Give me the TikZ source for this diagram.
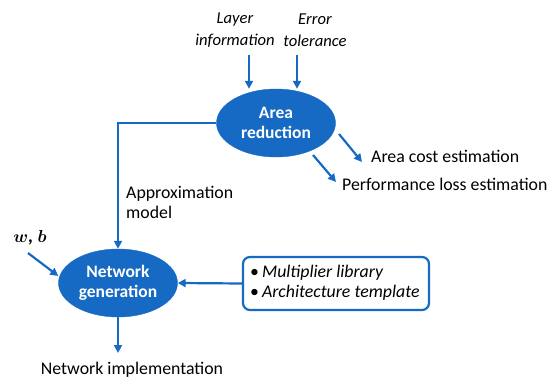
\documentclass[tikz,border=0pt]{standalone}
\usepackage{amsmath}
\usepackage{fontspec}
\setmainfont{Carlito}
\usetikzlibrary{shapes.geometric,arrows.meta}
\definecolor{myblue}{RGB}{22,106,196}
\begin{document}
\begin{tikzpicture}[x=1pt,y=-1pt,
  blob/.style={ellipse,fill=myblue,draw=myblue,minimum width=119pt,minimum height=68pt,inner sep=0pt,text=white,font=\fontsize{17.5}{20}\selectfont\bfseries,align=center},
  conn/.style={draw=myblue,line width=2.2pt,-{Triangle[length=8pt,width=8pt]}},
  lbl/.style={font=\fontsize{17.8}{20}\selectfont,inner sep=0pt,align=center},
  ilbl/.style={font=\fontsize{16.6}{22}\selectfont\itshape,inner sep=0pt,align=center}]
\useasboundingbox (0,0) rectangle (551,379);
\node[blob] (ar) at (276,123) {Area\\reduction};
\node[blob] (ng) at (118,283) {Network\\generation};
\node[ilbl] (li) at (235,30) {Layer\\information};
\node[ilbl] (et) at (315,30) {Error\\tolerance};
\coordinate (liS) at (249,55);
\coordinate (etS) at (297,55);
\draw[conn] (liS) -- (liS |- ar.north);
\draw[conn] (etS) -- (etS |- ar.north);
\coordinate (corner) at (118,123);
\draw[conn] (ar.west) -- (corner) -- (ng.north);
\node[lbl,align=left,anchor=west] (am) at (126,202) {Approximation\\model};
\node[font=\fontsize{19}{20}\selectfont,inner sep=0pt] (wb) at (30,238) {$\boldsymbol{w}$\textbf{\itshape, }$\boldsymbol{b}$};
\coordinate (wbS) at (28,253);
\draw[conn] (wbS) -- (ng.west |- 0,276) ;
\node[lbl] (ni) at (132,370) {Network implementation};
\draw[conn] (ng.south) -- (ng.south |- 0,353);
\node[draw=myblue,line width=2.2pt,rounded corners=7pt,minimum width=186pt,minimum height=53pt,inner sep=0pt] (box) at (336,283.5) {};
\node[font=\fontsize{17.8}{20}\selectfont,align=left,anchor=west,inner sep=0pt] (boxt) at (250,283) {\textbullet\,\textit{Multiplier library}\\\textbullet\,\textit{Architecture template}};
\draw[conn] (box.west) -- (ng.east);
\node[lbl,anchor=west] (ace) at (371,156) {Area cost estimation};
\node[lbl,anchor=west] (ple) at (342,184) {Performance loss estimation};
\coordinate (a1) at (339,134);
\coordinate (a2) at (313,155);
\draw[conn] (a1) -- (362,162);
\draw[conn] (a2) -- (336,182);
\end{tikzpicture}
\end{document}
